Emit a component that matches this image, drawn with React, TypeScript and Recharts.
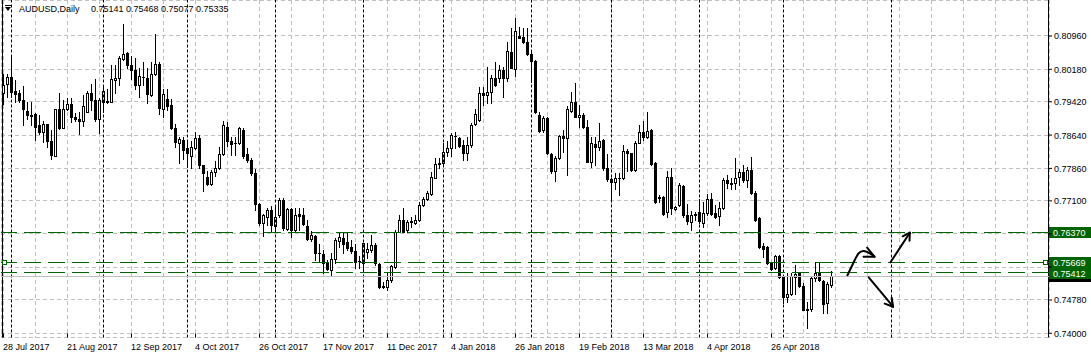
import React from 'react';
import { ComposedChart, Bar, Line, XAxis, YAxis, CartesianGrid, ReferenceLine } from 'recharts';

const FONT = '"Liberation Sans", Arial, sans-serif';

// AUDUSD daily, bar 0 = 28 Jul 2017, last bar = 17 May 2018
const opens = [
  0.7962, 0.7983, 0.8000, 0.7967, 0.7962, 0.7946, 0.7921, 0.7911, 0.7913, 0.7888,
  0.7872, 0.7890, 0.7850, 0.7815, 0.7924, 0.7881, 0.7924, 0.7936, 0.7907, 0.7901,
  0.7898, 0.7919, 0.7962, 0.7946, 0.7901, 0.7942, 0.7942, 0.7941, 0.7992, 0.7997,
  0.8042, 0.8055, 0.8028, 0.8016, 0.7981, 0.7999, 0.7998, 0.7958, 0.8006, 0.8030,
  0.7925, 0.7949, 0.7935, 0.7880, 0.7845, 0.7853, 0.7833, 0.7815, 0.7833, 0.7858,
  0.7793, 0.7767, 0.7749, 0.7777, 0.7786, 0.7819, 0.7884, 0.7850, 0.7845, 0.7845,
  0.7876, 0.7819, 0.7806, 0.7775, 0.7702, 0.7658, 0.7673, 0.7689, 0.7652, 0.7676,
  0.7712, 0.7643, 0.7690, 0.7642, 0.7679, 0.7677, 0.7651, 0.7620, 0.7628, 0.7589,
  0.7586, 0.7565, 0.7548, 0.7575, 0.7617, 0.7622, 0.7614, 0.7601, 0.7593, 0.7570,
  0.7564, 0.7591, 0.7595, 0.7607, 0.7562, 0.7510, 0.7508, 0.7525, 0.7556, 0.7638,
  0.7665, 0.7642, 0.7660, 0.7659, 0.7665, 0.7700, 0.7714, 0.7726, 0.7764, 0.7796,
  0.7798, 0.7824, 0.7833, 0.7862, 0.7856, 0.7841, 0.7822, 0.7841, 0.7889, 0.7899,
  0.7962, 0.7958, 0.7966, 0.7997, 0.7997, 0.8016, 0.7997, 0.8059, 0.8018, 0.8096,
  0.8094, 0.8081, 0.8053, 0.8037, 0.7911, 0.7876, 0.7903, 0.7819, 0.7779, 0.7811,
  0.7862, 0.7857, 0.7921, 0.7941, 0.7906, 0.7911, 0.7882, 0.7802, 0.7843, 0.7835,
  0.7853, 0.7786, 0.7761, 0.7753, 0.7763, 0.7763, 0.7827, 0.7822, 0.7782, 0.7846,
  0.7872, 0.7859, 0.7876, 0.7798, 0.7716, 0.7718, 0.7685, 0.7767, 0.7691, 0.7701,
  0.7745, 0.7677, 0.7660, 0.7677, 0.7685, 0.7659, 0.7681, 0.7714, 0.7681, 0.7675,
  0.7693, 0.7759, 0.7749, 0.7751, 0.7767, 0.7778, 0.7759, 0.7782, 0.7729, 0.7669,
  0.7604, 0.7601, 0.7565, 0.7552, 0.7580, 0.7531, 0.7486, 0.7492, 0.7532, 0.7540,
  0.7511, 0.7455, 0.7456, 0.7529, 0.7541, 0.7523, 0.7470, 0.75141,
];

const highs = [
  0.8006, 0.8006, 0.8048, 0.7993, 0.7970, 0.7980, 0.7941, 0.7941, 0.7915, 0.7911,
  0.7897, 0.7890, 0.7876, 0.7924, 0.7962, 0.7946, 0.7950, 0.7950, 0.7915, 0.7919,
  0.7958, 0.7967, 0.7983, 0.7995, 0.7950, 0.7977, 0.7972, 0.8028, 0.8027, 0.8048,
  0.8123, 0.8058, 0.8048, 0.8045, 0.8020, 0.8036, 0.8020, 0.8036, 0.8100, 0.8036,
  0.7972, 0.7972, 0.7949, 0.7889, 0.7860, 0.7860, 0.7853, 0.7849, 0.7872, 0.7864,
  0.7794, 0.7780, 0.7782, 0.7804, 0.7837, 0.7897, 0.7894, 0.7860, 0.7860, 0.7882,
  0.7880, 0.7833, 0.7810, 0.7785, 0.7704, 0.7679, 0.7694, 0.7697, 0.7699, 0.7716,
  0.7716, 0.7693, 0.7693, 0.7693, 0.7693, 0.7693, 0.7665, 0.7640, 0.7630, 0.7609,
  0.7595, 0.7571, 0.7587, 0.7622, 0.7638, 0.7638, 0.7634, 0.7618, 0.7609, 0.7581,
  0.7612, 0.7611, 0.7630, 0.7611, 0.7564, 0.7521, 0.7544, 0.7560, 0.7642, 0.7677,
  0.7693, 0.7665, 0.7673, 0.7677, 0.7708, 0.7720, 0.7732, 0.7778, 0.7811, 0.7810,
  0.7845, 0.7849, 0.7868, 0.7872, 0.7860, 0.7853, 0.7860, 0.7892, 0.7925, 0.7977,
  0.7977, 0.8024, 0.8005, 0.8036, 0.8028, 0.8024, 0.8083, 0.8115, 0.8137, 0.8118,
  0.8114, 0.8114, 0.8059, 0.8040, 0.7919, 0.7909, 0.7907, 0.7821, 0.7814, 0.7864,
  0.7876, 0.7932, 0.7966, 0.7987, 0.7935, 0.7915, 0.7899, 0.7859, 0.7859, 0.7892,
  0.7854, 0.7819, 0.7763, 0.7775, 0.7775, 0.7841, 0.7831, 0.7823, 0.7849, 0.7888,
  0.7897, 0.7917, 0.7878, 0.7800, 0.7724, 0.7722, 0.7779, 0.7786, 0.7697, 0.7751,
  0.7747, 0.7703, 0.7687, 0.7683, 0.7714, 0.7708, 0.7726, 0.7728, 0.7701, 0.7708,
  0.7763, 0.7771, 0.7763, 0.7810, 0.7784, 0.7794, 0.7790, 0.7813, 0.7732, 0.7672,
  0.7611, 0.7604, 0.7568, 0.7583, 0.7583, 0.7533, 0.7540, 0.7540, 0.7560, 0.7544,
  0.7517, 0.7474, 0.7533, 0.7566, 0.7566, 0.7525, 0.7521, 0.75468,
];

const lows = [
  0.7936, 0.7954, 0.7954, 0.7941, 0.7941, 0.7888, 0.7902, 0.7888, 0.7853, 0.7867,
  0.7847, 0.7837, 0.7807, 0.7814, 0.7878, 0.7880, 0.7923, 0.7894, 0.7896, 0.7866,
  0.7885, 0.7919, 0.7923, 0.7897, 0.7870, 0.7917, 0.7940, 0.7941, 0.7962, 0.7981,
  0.8040, 0.8020, 0.7995, 0.7973, 0.7954, 0.7981, 0.7938, 0.7956, 0.8005, 0.7913,
  0.7907, 0.7923, 0.7878, 0.7835, 0.7798, 0.7808, 0.7790, 0.7786, 0.7832, 0.7786,
  0.7732, 0.7746, 0.7747, 0.7769, 0.7785, 0.7817, 0.7839, 0.7817, 0.7817, 0.7843,
  0.7811, 0.7802, 0.7771, 0.7689, 0.7654, 0.7627, 0.7654, 0.7638, 0.7638, 0.7673,
  0.7642, 0.7642, 0.7626, 0.7638, 0.7642, 0.7653, 0.7618, 0.7615, 0.7572, 0.7566,
  0.7542, 0.7548, 0.7533, 0.7564, 0.7603, 0.7587, 0.7594, 0.7587, 0.7552, 0.7552,
  0.7550, 0.7576, 0.7591, 0.7560, 0.7505, 0.7505, 0.7502, 0.7521, 0.7552, 0.7636,
  0.7636, 0.7638, 0.7650, 0.7657, 0.7663, 0.7698, 0.7712, 0.7724, 0.7763, 0.7788,
  0.7794, 0.7814, 0.7814, 0.7833, 0.7835, 0.7806, 0.7806, 0.7837, 0.7888, 0.7897,
  0.7934, 0.7938, 0.7938, 0.7980, 0.7989, 0.7954, 0.7991, 0.8020, 0.8002, 0.8091,
  0.8079, 0.8052, 0.7989, 0.7915, 0.7872, 0.7872, 0.7819, 0.7775, 0.7757, 0.7808,
  0.7825, 0.7771, 0.7919, 0.7906, 0.7884, 0.7880, 0.7800, 0.7790, 0.7794, 0.7829,
  0.7782, 0.7757, 0.7712, 0.7737, 0.7724, 0.7761, 0.7779, 0.7781, 0.7779, 0.7845,
  0.7853, 0.7857, 0.7794, 0.7706, 0.7708, 0.7677, 0.7673, 0.7679, 0.7689, 0.7697,
  0.7673, 0.7657, 0.7642, 0.7665, 0.7659, 0.7650, 0.7677, 0.7677, 0.7669, 0.7654,
  0.7690, 0.7739, 0.7737, 0.7737, 0.7747, 0.7755, 0.7743, 0.7726, 0.7664, 0.7599,
  0.7578, 0.7562, 0.7548, 0.7550, 0.7529, 0.7470, 0.7474, 0.7490, 0.7492, 0.7509,
  0.7454, 0.7412, 0.7453, 0.7523, 0.7523, 0.7447, 0.7447, 0.75077,
];

const closes = [
  0.7981, 0.8000, 0.7966, 0.7961, 0.7945, 0.7925, 0.7910, 0.7908, 0.7884, 0.7872,
  0.7890, 0.7849, 0.7818, 0.7924, 0.7881, 0.7924, 0.7936, 0.7907, 0.7901, 0.7898,
  0.7932, 0.7962, 0.7947, 0.7901, 0.7946, 0.7967, 0.7944, 0.7995, 0.7998, 0.8045,
  0.8054, 0.8027, 0.8016, 0.7981, 0.8002, 0.7999, 0.7959, 0.8006, 0.8030, 0.7927,
  0.7959, 0.7933, 0.7880, 0.7847, 0.7855, 0.7829, 0.7823, 0.7835, 0.7858, 0.7793,
  0.7775, 0.7749, 0.7777, 0.7786, 0.7819, 0.7888, 0.7849, 0.7844, 0.7845, 0.7880,
  0.7814, 0.7806, 0.7775, 0.7702, 0.7658, 0.7677, 0.7689, 0.7654, 0.7673, 0.7712,
  0.7646, 0.7690, 0.7642, 0.7677, 0.7675, 0.7656, 0.7620, 0.7630, 0.7587, 0.7588,
  0.7564, 0.7550, 0.7575, 0.7618, 0.7625, 0.7609, 0.7599, 0.7593, 0.7568, 0.7569,
  0.7611, 0.7597, 0.7607, 0.7564, 0.7509, 0.7509, 0.7525, 0.7558, 0.7638, 0.7665,
  0.7638, 0.7661, 0.7662, 0.7665, 0.7700, 0.7714, 0.7728, 0.7767, 0.7796, 0.7799,
  0.7825, 0.7833, 0.7864, 0.7862, 0.7839, 0.7822, 0.7841, 0.7888, 0.7913, 0.7962,
  0.7958, 0.7966, 0.7998, 0.7981, 0.8016, 0.7997, 0.8061, 0.8022, 0.8108, 0.8092,
  0.8081, 0.8053, 0.8037, 0.7917, 0.7874, 0.7903, 0.7821, 0.7779, 0.7811, 0.7862,
  0.7858, 0.7924, 0.7941, 0.7907, 0.7911, 0.7882, 0.7802, 0.7845, 0.7837, 0.7851,
  0.7786, 0.7761, 0.7753, 0.7763, 0.7763, 0.7827, 0.7822, 0.7782, 0.7845, 0.7872,
  0.7859, 0.7874, 0.7797, 0.7708, 0.7718, 0.7679, 0.7765, 0.7693, 0.7696, 0.7747,
  0.7676, 0.7662, 0.7677, 0.7679, 0.7662, 0.7682, 0.7714, 0.7679, 0.7672, 0.7693,
  0.7760, 0.7751, 0.7752, 0.7763, 0.7778, 0.7759, 0.7782, 0.7728, 0.7665, 0.7603,
  0.7597, 0.7564, 0.7550, 0.7581, 0.7531, 0.7486, 0.7492, 0.7533, 0.7538, 0.7511,
  0.7455, 0.7457, 0.7530, 0.7541, 0.7525, 0.7469, 0.7516, 0.75335,
];

// date labels, one every 16 bars starting at bar 0
const dateLabels = [
  '28 Jul 2017', '21 Aug 2017', '12 Sep 2017', '4 Oct 2017', '26 Oct 2017', '17 Nov 2017',
  '11 Dec 2017', '4 Jan 2018', '26 Jan 2018', '19 Feb 2018', '13 Mar 2018', '4 Apr 2018', '26 Apr 2018',
];
const priceTicks = [0.74, 0.7478, 0.7555, 0.7633, 0.771, 0.7786, 0.7864, 0.7942, 0.8018, 0.8096];
const coveredTicks = [0.7555, 0.7633];
const monthStarts = [2, 25, 46, 68, 90, 110, 132, 152, 174, 195, 222];
const levels = [0.7637, 0.75669, 0.75412];
const selectedLevel = 0.75669;
const bid = 0.75335;
const headerName = 'AUDUSD,Daily';
const headerValues = ['0.75141', '0.75468', '0.75077', '0.75335'];

// hand drawn arrows, [bar index, price]
const curvePath = [[210.9, 0.75341], [212.6, 0.75676], [213.8, 0.75873], [215.1, 0.75927], [216.6, 0.75873], [217.75, 0.75793]];
const polyArrows = [
  [[215.9, 0.76004], [217.75, 0.75793], [215.0, 0.75793]],
  [[221.75, 0.75662], [226.58, 0.76355]],
  [[224.8, 0.76271], [226.58, 0.76355], [226.5, 0.76168]],
  [[216.3, 0.75311], [222.4, 0.74623]],
  [[222.05, 0.74831], [222.4, 0.74623], [220.3, 0.74695]],
];

const TOTAL_SLOTS = 262;
const GREEN = '#006400';
const GRID = '#C0C0C0';
const AXIS_Y = 337.5;

const rows = Array.from({ length: TOTAL_SLOTS }, (_, i) =>
  i < opens.length
    ? { i, o: opens[i], h: highs[i], l: lows[i], c: closes[i], range: [lows[i], highs[i]] }
    : { i, o: null, h: null, l: null, c: null, range: null }
);
const gridIdx = Array.from({ length: 33 }, (_, k) => k * 8);
const curveData = curvePath.map(([i, p]) => ({ i, p }));
const segments: any[] = [];
polyArrows.forEach((pts) => {
  for (let k = 0; k < pts.length - 1; k++) {
    segments.push([{ x: pts[k][0], y: pts[k][1] }, { x: pts[k + 1][0], y: pts[k + 1][1] }]);
  }
});

function Candle(props: any) {
  const { x, y, width, height, payload } = props;
  if (!payload || payload.o == null || height == null) return null;
  const top = Math.min(y, y + height);
  const bot = Math.max(y, y + height);
  const span = payload.h - payload.l;
  const yOf = (p: number) => (span > 0 ? top + ((payload.h - p) / span) * (bot - top) : top);
  const cx = Math.floor(x + width / 2) + 0.5;
  const yo = yOf(payload.o);
  const yc = yOf(payload.c);
  const bt = Math.round(Math.min(yo, yc)) + 0.5;
  const bb = Math.round(Math.max(yo, yc)) + 0.5;
  const bull = payload.c >= payload.o;
  return (
    <g>
      <line x1={cx} x2={cx} y1={Math.round(top)} y2={Math.round(bot) + 1} stroke="#000" strokeWidth={1} />
      {bb - bt < 1 ? (
        <line x1={cx - 1.5} x2={cx + 1.5} y1={bt} y2={bt} stroke="#000" strokeWidth={1} />
      ) : (
        <rect x={cx - 1} y={bt} width={2} height={bb - bt} fill={bull ? '#fff' : '#000'} stroke="#000" strokeWidth={1} />
      )}
    </g>
  );
}

const priceBox = (fill: string, text: string | null, handles: boolean) => (props: any) => {
  const vb = props.viewBox || {};
  const right = vb.x + vb.width;
  const y = Math.round(vb.y);
  return (
    <g>
      <rect x={right} y={y - 5} width={42} height={11} fill={fill} />
      {text && (
        <text x={right + 4} y={y + 4} fontSize={9} fontFamily={FONT} fill="#fff">{text}</text>
      )}
      {handles && (
        <g>
          <rect x={right - 5.5} y={y - 1.5} width={4} height={4} fill="#fff" stroke={fill} />
          <rect x={vb.x + 1.5} y={y - 1.5} width={4} height={4} fill="#fff" stroke={fill} />
        </g>
      )}
    </g>
  );
};

const DateTick = (props: any) => {
  const { x, payload } = props;
  const v = payload.value;
  if (v % 16 !== 0) return <g />;
  const label = dateLabels[v / 16];
  if (!label) return <g />;
  const px = Math.floor(x) + 0.5;
  return (
    <g>
      <line x1={px} x2={px} y1={AXIS_Y - 4} y2={AXIS_Y} stroke="#000" />
      <text x={px - 0.5} y={AXIS_Y + 12} fontSize={9} fontFamily={FONT} fill="#000" textAnchor="start">{label}</text>
    </g>
  );
};

const PriceTick = (props: any) => {
  const { x, y, payload } = props;
  if (coveredTicks.includes(payload.value)) return <g />;
  return (
    <text x={x} y={y + 3.5} fontSize={9} fontFamily={FONT} fill="#000" textAnchor="start">
      {payload.value.toFixed(5)}
    </text>
  );
};

export default function App() {
  return (
    <div style={{ position: 'absolute', left: 0, top: 0, width: 1091, height: 357, background: '#fff' }}>
      <ComposedChart width={1091} height={357} data={rows} margin={{ top: 0, right: 0, bottom: 0, left: 1 }}>
        <XAxis xAxisId="c" dataKey="i" type="category" hide />
        <XAxis
          xAxisId="n"
          dataKey="i"
          type="number"
          domain={[-0.625, 261.375]}
          allowDataOverflow
          ticks={gridIdx}
          interval={0}
          height={19.5}
          tickSize={0}
          tickMargin={0}
          tickLine={false}
          axisLine={{ stroke: '#000' }}
          tick={<DateTick />}
        />
        <YAxis
          type="number"
          orientation="right"
          domain={[0.739017, 0.81802]}
          allowDataOverflow
          ticks={priceTicks}
          interval={0}
          width={42}
          tickSize={3}
          tickMargin={2}
          axisLine={false}
          tickLine={{ stroke: '#000' }}
          tick={<PriceTick />}
        />
        <CartesianGrid xAxisId="n" stroke={GRID} strokeDasharray="4 3" shapeRendering="crispEdges" />
        {monthStarts.map((m) => (
          <ReferenceLine key={'m' + m} xAxisId="n" x={m} stroke="#000" strokeDasharray="3 2" ifOverflow="visible" />
        ))}
        <ReferenceLine xAxisId="n" x={-0.25} stroke="#000" />
        <ReferenceLine xAxisId="n" x={261.25} stroke="#000" />
        <ReferenceLine xAxisId="n" y={bid} stroke={GRID} shapeRendering="crispEdges" label={priceBox('#000', null, false)} />
        {levels.map((lv) => (
          <ReferenceLine
            key={'lv' + lv}
            xAxisId="n"
            y={lv}
            stroke={GREEN}
            strokeDasharray="17 7"
            shapeRendering="crispEdges"
            label={priceBox(GREEN, lv.toFixed(5), lv === selectedLevel)}
          />
        ))}
        <Bar xAxisId="c" dataKey="range" barSize={3} isAnimationActive={false} shape={(p: any) => <Candle {...p} />} />
        <Line
          xAxisId="n"
          data={curveData}
          dataKey="p"
          type="natural"
          stroke="#000"
          strokeWidth={2}
          dot={false}
          activeDot={false}
          isAnimationActive={false}
        />
        {segments.map((s, k) => (
          <ReferenceLine key={'a' + k} xAxisId="n" segment={s} stroke="#000" strokeWidth={2} strokeLinecap="round" ifOverflow="visible" />
        ))}
      </ComposedChart>
      <svg width={300} height={16} style={{ position: 'absolute', left: 0, top: 0 }}>
        <polygon points="5,7 11,7 8,11" fill="#000" />
        <line x1={5} x2={11} y1={5.5} y2={5.5} stroke="#000" />
        <text x={19} y={12} fontSize={9} fontFamily={FONT} fill="#000">{headerName}</text>
        {headerValues.map((v, k) => (
          <text key={v + k} x={91 + k * 35} y={12} fontSize={9} fontFamily={FONT} fill="#000">{v}</text>
        ))}
      </svg>
    </div>
  );
}
